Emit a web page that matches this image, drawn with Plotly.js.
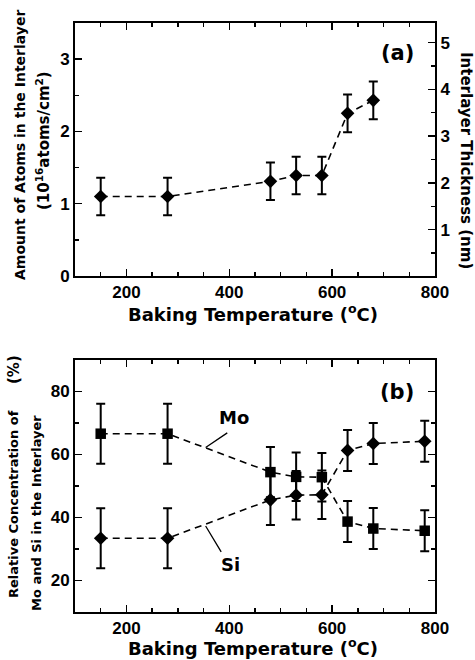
<!DOCTYPE html>
<html>
<head>
<meta charset="utf-8">
<script src="https://cdn.plot.ly/plotly-3.0.1.min.js"></script>
<style>html,body{margin:0;padding:0;background:#fff;}#chart{width:475px;height:660px;}</style>
</head>
<body>
<div id="chart"></div>
<script>
// ---- data ----
const tempA = [150, 280, 480, 530, 580, 630, 680];
const atomsA = [1.1, 1.1, 1.31, 1.39, 1.39, 2.25, 2.43];
const atomsErr = [0.26, 0.26, 0.26, 0.26, 0.26, 0.26, 0.26];

const tempB = [150, 280, 480, 530, 580, 630, 680, 780];
const moConc = [66.6, 66.6, 54.4, 52.9, 52.8, 38.7, 36.5, 35.8];
const siConc = [33.4, 33.4, 45.6, 47.1, 47.2, 61.3, 63.5, 64.2];
const moErr = [9.5, 9.5, 8.0, 7.7, 7.7, 6.5, 6.5, 6.5];
const siErr = [9.5, 9.5, 8.0, 7.7, 7.7, 6.5, 6.5, 6.5];

const xTitle = 'Baking Temperature (<sup>o</sup>C)';

// ---- layout helpers ----
const W = 475, H = 660;
const M = {l: 75, r: 40, t: 23, b: 48};
const PW = W - M.l - M.r, PH = H - M.t - M.b;
function px(x, y) { return {x: (x - M.l) / PW, y: (H - M.b - y) / PH}; }

const TICKFONT = 'Liberation Sans, Arial, sans-serif';
const FONT = 'DejaVu Sans, sans-serif';
const tickfont = {family: TICKFONT, size: 17, color: '#000', weight: 'bold'};

const errStyle = {type: 'data', thickness: 2, width: 4.5, color: '#000'};
const lineStyle = {color: '#000', width: 1.6, dash: '7px,5px'};

const traces = [
  {x: tempA, y: atomsA, xaxis: 'x', yaxis: 'y', mode: 'lines+markers', line: lineStyle,
   marker: {symbol: 'diamond', size: 10.5, color: '#000'},
   error_y: Object.assign({array: atomsErr}, errStyle)},
  {x: tempB, y: moConc, xaxis: 'x2', yaxis: 'y2', mode: 'lines+markers', line: lineStyle,
   marker: {symbol: 'square', size: 10.5, color: '#000'},
   error_y: Object.assign({array: moErr}, errStyle)},
  {x: tempB, y: siConc, xaxis: 'x2', yaxis: 'y2', mode: 'lines+markers', line: lineStyle,
   marker: {symbol: 'diamond', size: 10.5, color: '#000'},
   error_y: Object.assign({array: siErr}, errStyle)},
  // empty traces so the frame axes (right / top) are drawn
  {x: [], y: [], xaxis: 'x', yaxis: 'y3', mode: 'markers', hoverinfo: 'skip'},
  {x: [], y: [], xaxis: 'x3', yaxis: 'y', mode: 'markers', hoverinfo: 'skip'},
  {x: [], y: [], xaxis: 'x4', yaxis: 'y2', mode: 'markers', hoverinfo: 'skip'},
  {x: [], y: [], xaxis: 'x2', yaxis: 'y4', mode: 'markers', hoverinfo: 'skip'}
];

const minorX = {dtick: 50, ticks: 'inside', ticklen: 4, tickcolor: '#000', tickwidth: 1.3};
const axBase = {showgrid: false, zeroline: false, showline: true, linecolor: '#000', linewidth: 2,
  ticks: 'inside', ticklen: 7, tickwidth: 1.5, tickcolor: '#000', tickfont: tickfont, fixedrange: true};

const topBottom = (612 - 276) / PH;
const botTop = (612 - 360) / PH;

const layout = {
  width: W, height: H, margin: M, showlegend: false,
  paper_bgcolor: '#fff', plot_bgcolor: '#fff',
  font: {family: FONT, color: '#000'},
  xaxis: Object.assign({}, axBase, {domain: [0, 1], anchor: 'y', range: [100, 800], dtick: 200, tick0: 0, minor: minorX}),
  xaxis3: Object.assign({}, axBase, {overlaying: 'x', side: 'top', anchor: 'y', range: [100, 800], dtick: 200, tick0: 0,
    showticklabels: false, minor: minorX}),
  yaxis: Object.assign({}, axBase, {domain: [topBottom, 1], anchor: 'x', range: [0, 3.5], dtick: 1, tick0: 0,
    minor: {dtick: 0.5, ticks: 'inside', ticklen: 4, tickcolor: '#000', tickwidth: 1.3}}),
  yaxis3: Object.assign({}, axBase, {overlaying: 'y', side: 'right', anchor: 'x', range: [0.01, 5.42], dtick: 1, tick0: 0,
    minor: {dtick: 0.5, ticks: 'inside', ticklen: 4, tickcolor: '#000', tickwidth: 1.3}}),
  xaxis2: Object.assign({}, axBase, {domain: [0, 1], anchor: 'y2', range: [100, 800], dtick: 200, tick0: 0, minor: minorX}),
  xaxis4: Object.assign({}, axBase, {overlaying: 'x2', side: 'top', anchor: 'y2', range: [100, 800], dtick: 200, tick0: 0,
    showticklabels: false, minor: minorX}),
  yaxis2: Object.assign({}, axBase, {domain: [0, botTop], anchor: 'x2', range: [10, 90], dtick: 20, tick0: 0,
    minor: {dtick: 10, ticks: 'inside', ticklen: 4, tickcolor: '#000', tickwidth: 1.3}}),
  yaxis4: Object.assign({}, axBase, {overlaying: 'y2', side: 'right', anchor: 'x2', range: [10, 90], dtick: 20, tick0: 0,
    showticklabels: false, minor: {dtick: 10, ticks: 'inside', ticklen: 4, tickcolor: '#000', tickwidth: 1.3}}),
  annotations: []
};

function ann(x, y, text, size, angle, extra) {
  const p = px(x, y);
  layout.annotations.push(Object.assign({xref: 'paper', yref: 'paper', x: p.x, y: p.y, text: text,
    showarrow: false, textangle: angle || 0, xanchor: 'center', yanchor: 'middle',
    font: {family: FONT, size: size, color: '#000', weight: 'bold'}}, extra || {}));
}

// axis titles
ann(253, 313, xTitle, 18);
ann(253, 647, xTitle, 18);
ann(20, 145, 'Amount of Atoms in the Interlayer', 14, -90);
ann(43, 141, '(10<sup>16</sup>atoms/cm<sup>2</sup>)', 15, -90);
ann(466, 161, 'Interlayer Thickness (nm)', 15, 90);
ann(13, 504, 'Relative Concentration of', 13, -90);
ann(14, 370, '(%)', 15, -90);
ann(36, 513, 'Mo and Si in the Interlayer', 13, -90);
// panel labels
ann(397, 53, '(a)', 21);
ann(397, 392, '(b)', 21);

// series labels with leader lines (data coordinates)
layout.annotations.push({xref: 'x2', yref: 'y2', x: 354, y: 62.2, ax: 399, ay: 67.2, axref: 'x2', ayref: 'y2',
  text: '', showarrow: true, arrowhead: 0, arrowwidth: 1.3, arrowcolor: '#000'});
layout.annotations.push({xref: 'x2', yref: 'y2', x: 409, y: 71.7, text: 'Mo', showarrow: false,
  font: {family: FONT, size: 18, color: '#000', weight: 'bold'}});
layout.annotations.push({xref: 'x2', yref: 'y2', x: 354, y: 37.3, ax: 386, ay: 28.6, axref: 'x2', ayref: 'y2',
  text: '', showarrow: true, arrowhead: 0, arrowwidth: 1.3, arrowcolor: '#000'});
layout.annotations.push({xref: 'x2', yref: 'y2', x: 402, y: 25.1, text: 'Si', showarrow: false,
  font: {family: FONT, size: 18, color: '#000', weight: 'bold'}});

Plotly.newPlot('chart', traces, layout, {displayModeBar: false, staticPlot: true});
</script>
</body>
</html>
